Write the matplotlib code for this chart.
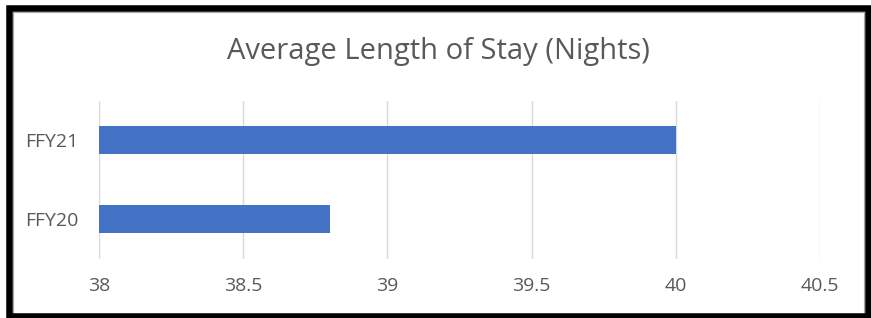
import matplotlib
matplotlib.use("Agg")
import matplotlib.pyplot as plt
from matplotlib.patches import Rectangle

categories = ["FFY20", "FFY21"]
values = [38.8, 40.0]
xticks = [38, 38.5, 39, 39.5, 40, 40.5]
xtick_labels = ["38", "38.5", "39", "39.5", "40", "40.5"]
title = "Average Length of Stay (Nights)"

plt.rcParams["font.family"] = ["Open Sans", "DejaVu Sans"]

W, H = 871, 318
fig = plt.figure(figsize=(W / 100, H / 100), dpi=100)
fig.patch.set_facecolor("white")

ax = fig.add_axes([99 / W, (H - 258.5) / H, (820 - 99) / W, 158 / H])
ax.barh(range(len(categories)), [v - 38 for v in values], left=38, height=0.355,
        color="#4472C4", zorder=3)
ax.set_xlim(38, 40.5)
ax.set_ylim(-0.5, 1.5)
ax.set_xticks(xticks)
ax.set_xticklabels(xtick_labels)
ax.set_yticks(range(len(categories)))
ax.set_yticklabels(categories)
ax.grid(axis="x", color="#d9d9d9", linewidth=1, zorder=0)
for s in ax.spines.values():
    s.set_visible(False)
ax.tick_params(axis="both", length=0, labelsize=14, colors="#595959")
ax.tick_params(axis="x", pad=13)
ax.tick_params(axis="y", pad=15)

fig.text(438 / W, 1 - 52 / H, title, ha="center", va="center", fontsize=21,
         color="#595959")

# inner thin gray frame
fig.add_artist(Rectangle((13 / W, 4 / H), (864 - 13) / W, (306 - 4) / H, transform=fig.transFigure,
                         fill=False, edgecolor="#a6a6a6", linewidth=0.8))
# outer black frame
fig.add_artist(Rectangle((8.5 / W, 2.5 / H), (868 - 8.5) / W, (310 - 2.5) / H, transform=fig.transFigure,
                         fill=False, edgecolor="black", linewidth=4.7))

fig.savefig("out.png", dpi=100, facecolor="white")
